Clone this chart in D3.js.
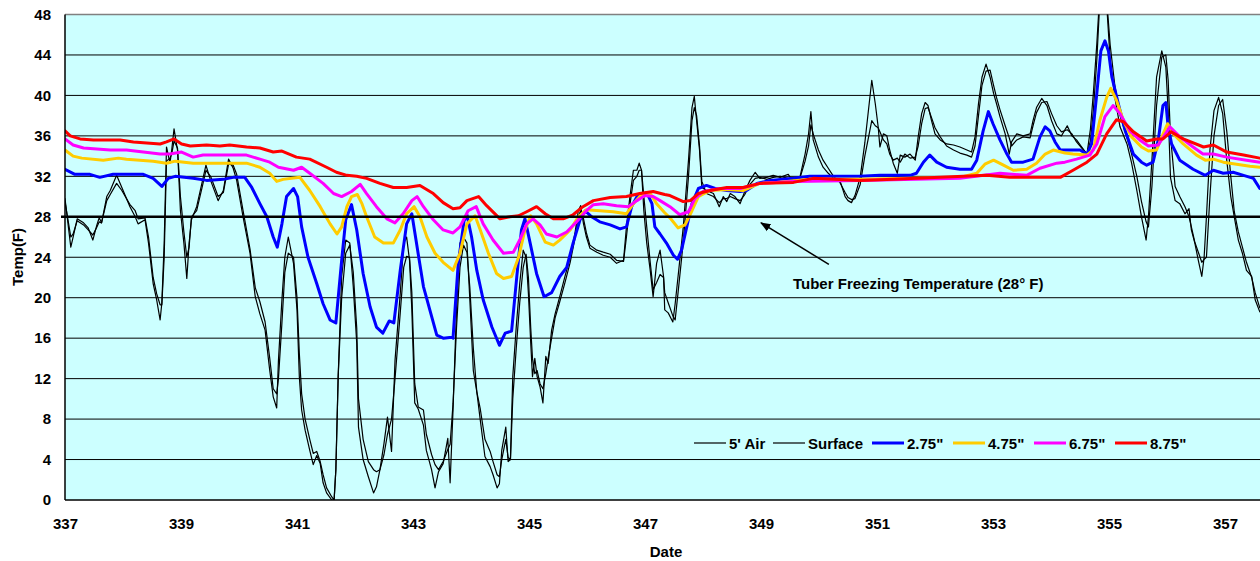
<!DOCTYPE html>
<html><head><meta charset="utf-8">
<script src="https://cdn.jsdelivr.net/npm/d3@7"></script>
<style>
body{margin:0;background:#fff;}
text{font-family:"Liberation Sans",Arial,sans-serif;font-weight:bold;fill:#000;}
</style>
</head><body>
<svg id="chart" width="1260" height="561"></svg>
<script>
// ---------------- data (day of year, temperature °F) ----------------
const xTicks = [337,339,341,343,345,347,349,351,353,355,357];
const yTicks = [0,4,8,12,16,20,24,28,32,36,40,44,48];
const freezeTemp = 28;
const seriesNames = ["5' Air","Surface","2.75\"","4.75\"","6.75\"","8.75\""];
const seriesColors = ["#000000","#000000","#0000FF","#FFCC00","#FF00FF","#FF0000"];

const air5 = [[337.00,29.8],[337.10,25.0],[337.14,26.0],[337.21,27.8],[337.32,27.4],[337.40,26.9],[337.48,25.7],[337.55,27.2],[337.59,27.9],[337.63,27.4],[337.72,30.0],[337.78,30.6],[337.89,32.1],[337.98,30.9],[338.12,29.0],[338.21,28.0],[338.26,27.3],[338.38,27.7],[338.44,25.4],[338.52,21.4],[338.58,19.8],[338.64,17.8],[338.67,19.5],[338.71,25.4],[338.75,34.9],[338.81,33.3],[338.84,34.6],[338.88,36.7],[338.94,34.6],[338.99,28.6],[339.05,25.4],[339.10,21.9],[339.14,25.4],[339.18,27.7],[339.27,29.0],[339.36,31.3],[339.43,33.1],[339.51,31.6],[339.64,29.6],[339.73,30.6],[339.82,33.7],[339.90,32.8],[339.96,31.6],[340.07,28.0],[340.19,24.4],[340.28,20.1],[340.36,18.4],[340.45,16.8],[340.53,12.8],[340.59,10.2],[340.65,9.1],[340.68,13.8],[340.74,19.8],[340.79,24.0],[340.85,26.0],[340.94,23.4],[341.00,18.8],[341.04,12.2],[341.08,8.9],[341.14,6.9],[341.22,4.9],[341.28,3.5],[341.34,4.4],[341.40,3.6],[341.45,1.7],[341.51,0.7],[341.60,0],[341.64,0],[341.67,3.0],[341.71,12.2],[341.77,22.1],[341.84,25.7],[341.91,25.4],[341.97,21.1],[342.03,15.5],[342.06,7.2],[342.14,4.0],[342.23,2.3],[342.32,0.7],[342.37,1.3],[342.43,3.0],[342.50,5.6],[342.56,8.2],[342.63,4.8],[342.69,13.8],[342.78,20.4],[342.84,25.4],[342.89,26.0],[342.94,23.7],[342.98,18.8],[343.03,9.6],[343.09,9.0],[343.18,7.4],[343.23,4.9],[343.32,3.0],[343.38,1.2],[343.44,2.8],[343.52,3.6],[343.60,6.1],[343.64,1.7],[343.69,8.9],[343.75,18.8],[343.81,25.4],[343.87,26.0],[343.93,25.4],[343.98,19.8],[344.04,12.8],[344.10,10.7],[344.16,7.9],[344.24,4.3],[344.33,3.3],[344.38,2.5],[344.45,1.2],[344.49,1.6],[344.53,4.9],[344.60,7.2],[344.64,3.8],[344.68,4.0],[344.72,12.2],[344.78,17.1],[344.84,21.4],[344.90,24.7],[344.95,24.0],[344.99,20.4],[345.03,15.5],[345.06,12.2],[345.10,14.0],[345.14,12.2],[345.19,11.2],[345.24,9.6],[345.29,14.2],[345.33,13.5],[345.39,16.8],[345.45,18.4],[345.53,20.1],[345.62,22.1],[345.71,24.0],[345.79,26.3],[345.85,28.6],[345.89,29.1],[345.94,27.3],[345.99,26.0],[346.05,24.9],[346.17,24.5],[346.28,24.2],[346.40,24.0],[346.51,23.4],[346.63,23.7],[346.68,27.0],[346.74,30.0],[346.80,32.6],[346.86,32.6],[346.90,33.3],[346.94,32.6],[346.98,28.6],[347.03,25.4],[347.09,22.7],[347.14,20.1],[347.20,23.4],[347.26,24.7],[347.32,22.1],[347.34,18.8],[347.40,18.5],[347.48,17.6],[347.52,19.4],[347.57,22.1],[347.66,27.0],[347.75,33.6],[347.81,38.8],[347.85,39.9],[347.89,37.5],[347.94,34.6],[347.98,30.9],[348.06,30.6],[348.18,30.3],[348.28,29.0],[348.35,30.0],[348.41,29.5],[348.47,30.3],[348.55,30.0],[348.64,29.3],[348.72,30.5],[348.81,31.6],[348.90,32.4],[348.98,31.8],[349.10,31.9],[349.21,32.1],[349.33,31.9],[349.47,32.2],[349.56,31.4],[349.67,31.9],[349.76,34.2],[349.82,36.2],[349.86,38.4],[349.90,35.6],[349.99,33.9],[350.07,32.9],[350.16,32.3],[350.25,31.8],[350.36,31.6],[350.45,30.0],[350.50,29.6],[350.56,29.4],[350.62,30.1],[350.71,31.9],[350.79,35.3],[350.91,41.5],[350.97,39.2],[351.02,36.9],[351.05,34.9],[351.11,36.2],[351.17,36.0],[351.22,34.6],[351.28,33.3],[351.35,32.3],[351.40,34.1],[351.48,33.9],[351.57,34.2],[351.66,33.6],[351.71,35.9],[351.77,38.2],[351.83,39.3],[351.88,39.0],[351.94,37.5],[352.00,36.2],[352.09,35.6],[352.20,35.2],[352.32,35.1],[352.43,34.9],[352.55,34.6],[352.63,34.4],[352.69,35.9],[352.75,39.2],[352.81,41.8],[352.88,43.1],[352.95,41.8],[353.01,40.2],[353.06,39.2],[353.12,37.9],[353.21,36.2],[353.28,34.2],[353.32,35.4],[353.41,36.2],[353.52,36.0],[353.64,36.2],[353.69,37.5],[353.75,38.8],[353.84,39.7],[353.93,39.0],[354.01,37.5],[354.10,36.2],[354.18,36.0],[354.28,37.0],[354.36,36.0],[354.44,35.6],[354.53,34.9],[354.62,34.2],[354.68,36.7],[354.73,40.2],[354.79,45.1],[354.83,49.0],[354.90,50.5],[354.96,49.0],[355.02,43.5],[355.10,39.8],[355.19,36.9],[355.31,35.2],[355.39,33.3],[355.48,30.6],[355.56,28.0],[355.64,25.7],[355.68,28.0],[355.74,33.6],[355.82,41.8],[355.91,44.4],[355.98,42.8],[356.02,38.5],[356.06,31.9],[356.14,29.6],[356.22,29.3],[356.31,28.3],[356.38,28.8],[356.42,26.7],[356.48,25.4],[356.54,23.7],[356.60,22.1],[356.64,24.0],[356.68,28.0],[356.74,34.6],[356.81,38.5],[356.89,39.8],[356.96,38.2],[357.03,33.6],[357.10,30.0],[357.16,28.0],[357.23,25.7],[357.30,24.4],[357.37,22.7],[357.46,22.1],[357.52,19.8],[357.60,18.6]];

const surface = [[337.00,29.5],[337.10,26.0],[337.14,26.3],[337.21,27.6],[337.32,27.2],[337.40,26.7],[337.48,26.2],[337.55,27.0],[337.59,27.5],[337.63,27.4],[337.72,29.6],[337.78,30.2],[337.89,31.3],[337.98,30.6],[338.12,29.2],[338.21,28.6],[338.26,27.8],[338.38,27.9],[338.44,26.0],[338.52,22.0],[338.58,20.4],[338.64,19.3],[338.67,19.3],[338.71,24.0],[338.75,33.5],[338.81,33.8],[338.84,34.2],[338.88,35.5],[338.94,34.8],[338.99,30.0],[339.05,26.5],[339.10,24.0],[339.14,25.0],[339.18,28.0],[339.27,28.6],[339.36,30.8],[339.43,32.6],[339.51,32.0],[339.64,30.0],[339.73,30.4],[339.82,33.2],[339.90,33.1],[339.96,32.2],[340.07,28.6],[340.19,24.8],[340.28,21.0],[340.36,19.6],[340.45,17.6],[340.53,14.0],[340.59,11.0],[340.65,10.5],[340.68,12.0],[340.74,17.5],[340.79,22.5],[340.85,24.4],[340.94,24.0],[341.00,20.0],[341.04,14.5],[341.08,10.5],[341.14,8.0],[341.22,6.0],[341.28,4.6],[341.34,4.8],[341.40,3.8],[341.45,2.5],[341.51,1.2],[341.60,0.3],[341.64,0],[341.67,3.0],[341.71,12.2],[341.77,20.0],[341.84,24.4],[341.91,25.2],[341.97,22.5],[342.03,17.0],[342.06,10.0],[342.14,6.0],[342.23,3.8],[342.32,3.0],[342.37,2.8],[342.43,3.0],[342.50,4.5],[342.56,6.5],[342.63,8.0],[342.69,12.0],[342.78,18.5],[342.84,23.0],[342.89,24.1],[342.94,24.0],[342.98,20.5],[343.03,11.5],[343.09,9.2],[343.18,8.9],[343.23,6.5],[343.32,4.5],[343.38,3.5],[343.44,3.0],[343.52,3.8],[343.60,5.0],[343.64,5.5],[343.69,9.5],[343.75,17.0],[343.81,23.0],[343.87,25.2],[343.93,24.5],[343.98,21.0],[344.04,15.0],[344.10,10.7],[344.16,9.0],[344.24,6.0],[344.33,4.8],[344.38,3.8],[344.45,2.5],[344.49,2.3],[344.53,4.0],[344.60,6.0],[344.64,4.2],[344.68,4.0],[344.72,10.0],[344.78,15.0],[344.84,19.5],[344.90,23.0],[344.95,24.3],[344.99,22.0],[345.03,17.0],[345.06,14.0],[345.10,12.5],[345.14,12.8],[345.19,11.5],[345.24,11.0],[345.29,12.5],[345.33,14.0],[345.39,16.0],[345.45,18.0],[345.53,19.6],[345.62,21.5],[345.71,23.5],[345.79,25.8],[345.85,28.0],[345.89,28.6],[345.94,27.8],[345.99,26.4],[346.05,25.2],[346.17,24.7],[346.28,24.5],[346.40,24.3],[346.51,23.7],[346.63,23.6],[346.68,26.0],[346.74,29.2],[346.80,31.6],[346.86,32.0],[346.90,32.6],[346.94,32.6],[346.98,30.0],[347.03,27.0],[347.09,23.5],[347.14,20.8],[347.20,21.5],[347.26,22.3],[347.32,22.0],[347.34,20.5],[347.40,19.5],[347.48,18.2],[347.52,17.8],[347.57,20.5],[347.66,25.5],[347.75,32.0],[347.81,37.5],[347.85,38.8],[347.89,38.0],[347.94,35.0],[347.98,31.5],[348.06,30.3],[348.18,30.0],[348.28,29.4],[348.35,29.8],[348.41,29.8],[348.47,30.0],[348.55,29.8],[348.64,29.6],[348.72,30.2],[348.81,31.2],[348.90,31.8],[348.98,31.9],[349.10,31.7],[349.21,31.9],[349.33,32.0],[349.47,31.8],[349.56,31.6],[349.67,31.8],[349.76,33.5],[349.82,35.0],[349.86,37.1],[349.90,36.2],[349.99,34.6],[350.07,33.6],[350.16,32.8],[350.25,32.0],[350.36,31.4],[350.45,30.4],[350.50,29.9],[350.56,29.7],[350.62,29.8],[350.71,31.2],[350.79,34.0],[350.91,37.5],[350.97,37.0],[351.02,36.8],[351.05,36.4],[351.11,35.6],[351.17,35.2],[351.22,34.2],[351.28,33.6],[351.35,33.8],[351.40,33.4],[351.48,34.2],[351.57,33.8],[351.66,33.9],[351.71,35.0],[351.77,37.2],[351.83,38.7],[351.88,38.8],[351.94,37.8],[352.00,36.8],[352.09,35.9],[352.20,35.0],[352.32,34.6],[352.43,34.3],[352.55,34.1],[352.63,33.9],[352.69,35.0],[352.75,38.0],[352.81,41.0],[352.88,42.4],[352.95,42.5],[353.01,41.0],[353.06,39.8],[353.12,38.6],[353.21,37.0],[353.28,35.8],[353.32,35.0],[353.41,35.6],[353.52,35.9],[353.64,35.8],[353.69,37.0],[353.75,38.3],[353.84,39.3],[353.93,39.4],[354.01,38.2],[354.10,37.0],[354.18,36.4],[354.28,36.6],[354.36,36.2],[354.44,35.4],[354.53,34.8],[354.62,34.2],[354.68,35.5],[354.73,38.5],[354.79,43.5],[354.83,48.0],[354.90,50.0],[354.96,49.5],[355.02,45.0],[355.10,41.0],[355.19,38.0],[355.31,35.8],[355.39,34.2],[355.48,32.0],[355.56,29.5],[355.64,27.5],[355.68,27.0],[355.74,31.0],[355.82,39.0],[355.91,43.8],[355.98,44.0],[356.02,41.5],[356.06,36.0],[356.14,31.0],[356.22,30.0],[356.31,29.0],[356.38,28.0],[356.42,27.0],[356.48,25.5],[356.54,24.5],[356.60,23.5],[356.64,23.8],[356.68,24.0],[356.74,30.0],[356.81,36.0],[356.89,39.0],[356.96,39.6],[357.03,36.5],[357.10,32.0],[357.16,28.5],[357.23,26.5],[357.30,25.0],[357.37,23.5],[357.46,22.0],[357.52,20.5],[357.60,19.0]];

const depth275 = [[337.00,32.7],[337.17,32.2],[337.43,32.2],[337.60,31.9],[337.83,32.2],[338.35,32.2],[338.52,31.8],[338.67,31.0],[338.78,31.8],[338.90,32.0],[339.21,31.8],[339.44,31.6],[339.73,31.7],[339.90,31.9],[340.10,31.9],[340.22,30.9],[340.36,29.3],[340.48,28.0],[340.59,26.0],[340.66,25.0],[340.74,27.3],[340.82,30.0],[340.94,30.8],[341.01,30.0],[341.08,27.0],[341.19,24.0],[341.34,21.4],[341.45,19.4],[341.57,17.8],[341.67,17.5],[341.77,23.7],[341.84,27.7],[341.94,29.2],[342.03,26.7],[342.14,22.4],[342.26,19.1],[342.37,17.1],[342.48,16.5],[342.59,17.7],[342.67,17.5],[342.78,22.7],[342.89,27.3],[342.98,28.3],[343.06,25.4],[343.18,21.1],[343.29,18.8],[343.41,16.3],[343.52,16.0],[343.67,16.1],[343.69,16.0],[343.78,23.4],[343.88,27.6],[343.93,28.2],[344.01,26.0],[344.10,22.7],[344.21,19.8],[344.36,17.1],[344.49,15.3],[344.59,16.5],[344.70,16.7],[344.79,22.1],[344.87,26.7],[344.93,27.8],[345.02,25.4],[345.13,22.4],[345.26,20.1],[345.39,20.5],[345.53,22.1],[345.65,23.0],[345.76,25.4],[345.88,27.7],[345.97,28.6],[346.08,28.0],[346.22,27.5],[346.40,27.2],[346.57,26.8],[346.68,27.0],[346.77,29.0],[346.86,30.0],[347.03,30.4],[347.12,29.3],[347.17,27.0],[347.26,26.3],[347.37,25.4],[347.49,24.2],[347.56,23.8],[347.63,24.7],[347.72,27.0],[347.81,29.3],[347.92,30.8],[348.06,31.1],[348.21,30.8],[348.41,30.6],[348.64,30.5],[348.75,30.6],[348.93,31.3],[349.16,31.6],[349.56,31.8],[349.84,32.0],[350.71,32.0],[351.05,32.1],[351.57,32.1],[351.68,32.3],[351.80,33.4],[351.91,34.1],[352.03,33.4],[352.20,32.9],[352.43,32.7],[352.63,32.7],[352.72,33.6],[352.83,36.5],[352.92,38.4],[353.00,37.2],[353.12,35.6],[353.24,34.2],[353.32,33.4],[353.52,33.4],[353.69,33.7],[353.81,35.9],[353.90,36.9],[353.98,36.5],[354.07,35.4],[354.16,34.6],[354.27,34.6],[354.50,34.6],[354.62,34.2],[354.70,35.2],[354.79,40.2],[354.86,44.4],[354.93,45.4],[354.99,44.4],[355.05,41.8],[355.16,39.2],[355.28,36.5],[355.42,34.2],[355.56,33.4],[355.65,33.1],[355.76,33.4],[355.85,35.6],[355.93,39.0],[355.98,39.3],[356.02,36.9],[356.08,35.2],[356.22,33.6],[356.45,32.7],[356.66,32.1],[356.80,32.6],[356.97,32.3],[357.14,32.4],[357.32,32.1],[357.49,31.8],[357.60,30.8]];

const depth475 = [[337.00,34.6],[337.14,34.0],[337.29,33.8],[337.66,33.6],[337.92,33.8],[338.06,33.7],[338.52,33.5],[338.75,33.3],[338.90,33.5],[339.21,33.3],[339.50,33.3],[340.13,33.3],[340.36,32.9],[340.53,32.3],[340.65,31.5],[340.76,31.7],[341.05,31.9],[341.22,30.6],[341.40,29.0],[341.57,27.3],[341.69,26.3],[341.77,27.0],[341.86,29.0],[341.94,30.0],[342.04,30.2],[342.12,29.3],[342.20,28.0],[342.34,26.0],[342.49,25.4],[342.66,25.4],[342.78,26.7],[342.89,28.3],[343.02,29.0],[343.12,28.0],[343.24,26.0],[343.38,24.4],[343.52,23.5],[343.69,22.7],[343.81,24.4],[343.93,27.3],[344.07,28.1],[344.16,26.7],[344.30,24.4],[344.44,22.4],[344.56,21.9],[344.70,22.1],[344.82,24.0],[344.93,26.7],[345.03,28.1],[345.13,27.3],[345.28,25.5],[345.42,25.2],[345.53,25.7],[345.71,26.7],[345.85,28.0],[345.99,28.7],[346.22,28.6],[346.45,28.5],[346.68,28.3],[346.80,29.3],[346.91,30.0],[347.09,30.3],[347.20,29.3],[347.34,28.4],[347.43,27.9],[347.57,26.9],[347.69,27.2],[347.81,28.6],[347.92,30.0],[348.12,30.6],[348.41,30.7],[348.69,30.6],[348.98,31.3],[349.27,31.4],[349.84,31.7],[350.71,31.7],[352.43,31.9],[352.72,32.3],[352.86,33.2],[353.01,33.6],[353.18,33.1],[353.35,32.6],[353.58,32.7],[353.75,33.3],[353.90,34.2],[354.04,34.6],[354.24,34.3],[354.38,34.2],[354.62,34.1],[354.73,34.6],[354.84,37.5],[354.96,39.8],[355.03,40.7],[355.13,39.5],[355.25,37.5],[355.39,35.9],[355.56,34.9],[355.68,34.5],[355.82,34.6],[355.91,35.9],[356.01,37.2],[356.11,36.2],[356.28,35.2],[356.51,34.1],[356.66,33.6],[356.80,33.7],[356.97,33.4],[357.20,33.2],[357.43,33.0],[357.60,32.9]];

const depth675 = [[337.00,35.7],[337.14,35.1],[337.32,34.8],[337.78,34.6],[338.06,34.6],[338.35,34.4],[338.64,34.2],[338.81,34.2],[339.01,34.4],[339.21,33.9],[339.38,34.1],[340.13,34.1],[340.36,33.7],[340.53,33.4],[340.68,32.9],[340.94,32.6],[341.08,32.9],[341.22,32.3],[341.45,31.3],[341.63,30.3],[341.77,30.0],[341.94,30.5],[342.09,31.2],[342.20,30.3],[342.37,29.0],[342.55,27.8],[342.69,27.4],[342.83,28.3],[342.98,29.6],[343.07,30.0],[343.18,29.0],[343.35,27.7],[343.52,26.7],[343.69,26.4],[343.81,27.0],[343.95,28.6],[344.09,29.0],[344.21,27.3],[344.38,25.7],[344.56,24.4],[344.73,24.5],[344.84,25.7],[344.96,27.3],[345.07,27.8],[345.19,27.2],[345.30,26.3],[345.48,26.0],[345.65,26.5],[345.82,27.5],[345.99,28.6],[346.11,29.2],[346.28,29.3],[346.51,29.1],[346.71,29.0],[346.86,29.6],[347.00,30.1],[347.14,30.0],[347.26,29.6],[347.43,29.0],[347.60,28.2],[347.75,28.5],[347.86,29.8],[348.00,30.5],[348.29,30.8],[348.64,30.8],[348.98,31.3],[349.56,31.5],[350.71,31.6],[352.43,31.8],[353.12,32.3],[353.58,32.1],[353.81,32.8],[354.10,33.3],[354.24,33.4],[354.44,33.7],[354.67,34.1],[354.79,35.2],[354.93,37.9],[355.07,39.0],[355.19,38.2],[355.36,36.5],[355.53,35.6],[355.68,35.0],[355.85,35.1],[356.05,36.9],[356.22,35.9],[356.45,34.9],[356.62,34.2],[356.80,34.2],[357.03,33.9],[357.37,33.6],[357.60,33.4]];

const depth875 = [[337.00,36.5],[337.09,36.0],[337.26,35.7],[337.49,35.6],[337.95,35.6],[338.18,35.4],[338.41,35.3],[338.64,35.2],[338.75,35.4],[338.88,35.7],[339.01,35.2],[339.16,35.0],[339.44,35.1],[339.67,35.0],[339.84,35.1],[340.13,34.9],[340.36,34.8],[340.59,34.4],[340.74,34.5],[340.99,33.9],[341.22,33.7],[341.51,32.9],[341.68,32.4],[341.86,32.1],[342.03,32.0],[342.20,31.8],[342.43,31.3],[342.66,30.9],[342.89,30.9],[343.12,31.1],[343.35,30.3],[343.52,29.4],[343.69,28.8],[343.81,28.9],[343.93,29.6],[344.13,30.0],[344.27,29.1],[344.50,27.8],[344.67,28.0],[344.82,28.1],[344.96,28.5],[345.13,29.0],[345.28,28.3],[345.42,27.8],[345.59,27.8],[345.76,28.2],[345.93,29.0],[346.11,29.6],[346.40,29.9],[346.68,30.0],[346.91,30.3],[347.14,30.5],[347.34,30.2],[347.43,30.1],[347.66,29.5],[347.78,29.6],[347.92,30.3],[348.12,30.6],[348.41,30.9],[348.69,30.9],[348.98,31.3],[349.56,31.4],[349.90,31.8],[350.71,31.6],[351.28,31.7],[352.89,32.1],[353.29,31.9],[353.92,31.9],[354.16,31.9],[354.38,32.6],[354.62,33.4],[354.79,34.2],[354.96,36.2],[355.13,37.6],[355.25,37.4],[355.42,36.4],[355.65,35.5],[355.82,35.7],[355.93,35.7],[356.07,36.4],[356.28,35.7],[356.63,34.9],[356.80,35.1],[357.03,34.4],[357.32,34.1],[357.60,33.8]];

const seriesData = [air5, surface, depth275, depth475, depth675, depth875];

// ---------------- layout ----------------
const svg = d3.select("#chart");
const plotL = 65, plotR = 1262, plotT = 14.5, plotB = 500;
const x = d3.scaleLinear().domain([337, 357.6]).range([plotL, 1259.8]);
const y = d3.scaleLinear().domain([0, 48]).range([plotB, plotT]);

svg.append("rect").attr("x",0).attr("y",0).attr("width",1260).attr("height",561).attr("fill","#fff");
svg.append("rect").attr("x",plotL).attr("y",plotT).attr("width",plotR-plotL).attr("height",plotB-plotT).attr("fill","#CCFFFF");

// grid lines
svg.append("g").selectAll("line").data(yTicks.filter(t=>t>0 && t<48 && t!==freezeTemp)).join("line")
  .attr("x1",plotL).attr("x2",plotR).attr("y1",d=>y(d)).attr("y2",d=>y(d))
  .attr("stroke","#000").attr("stroke-width",1);
// top border
svg.append("line").attr("x1",plotL).attr("x2",plotR).attr("y1",y(48)).attr("y2",y(48)).attr("stroke","#808080").attr("stroke-width",1.5);

// clip
svg.append("clipPath").attr("id","clip").append("rect")
  .attr("x",plotL).attr("y",plotT).attr("width",plotR-plotL).attr("height",plotB-plotT);

const line = d3.line().x(d=>x(d[0])).y(d=>y(d[1]));
const g = svg.append("g").attr("clip-path","url(#clip)");
seriesData.forEach((data,i)=>{
  g.append("path").datum(data).attr("d",line).attr("fill","none")
    .attr("stroke",seriesColors[i]).attr("stroke-width", i<2 ? 1.2 : 3)
    .attr("stroke-linejoin","round").attr("stroke-linecap","round");
});

// freezing line
svg.append("line").attr("x1",plotL-4).attr("x2",plotR).attr("y1",y(freezeTemp)).attr("y2",y(freezeTemp))
  .attr("stroke","#000").attr("stroke-width",2.6);

// axes lines
svg.append("line").attr("x1",plotL).attr("x2",plotL).attr("y1",plotT).attr("y2",plotB).attr("stroke","#000").attr("stroke-width",1.5);
svg.append("line").attr("x1",plotL).attr("x2",plotR).attr("y1",plotB).attr("y2",plotB).attr("stroke","#000").attr("stroke-width",1.5);

// y axis labels
const yAxis = d3.axisLeft(y).tickValues(yTicks).tickSize(0).tickPadding(14).tickFormat(d3.format("d"));
const ya = svg.append("g").attr("transform",`translate(${plotL},0)`).call(yAxis);
ya.select(".domain").remove();
ya.selectAll("text").style("font-size","15px").style("font-family","'Liberation Sans',Arial,sans-serif").style("font-weight","bold").attr("fill","#000");

// x axis labels
const xAxis = d3.axisBottom(x).tickValues(xTicks).tickSize(0).tickPadding(18).tickFormat(d3.format("d"));
const xa = svg.append("g").attr("transform",`translate(0,${plotB})`).call(xAxis);
xa.select(".domain").remove();
xa.selectAll("text").style("font-size","15px").style("font-family","'Liberation Sans',Arial,sans-serif").style("font-weight","bold").attr("fill","#000");

// axis titles
svg.append("text").attr("x",666).attr("y",557).attr("text-anchor","middle").style("font-size","15px").text("Date");
svg.append("text").attr("transform","translate(23,257) rotate(-90)").attr("text-anchor","middle").style("font-size","15px").text("Temp(F)");

// annotation
svg.append("defs").append("marker").attr("id","arr").attr("viewBox","0 0 10 10").attr("refX",9).attr("refY",5)
  .attr("markerWidth",7).attr("markerHeight",7).attr("orient","auto")
  .append("path").attr("d","M0,1 L10,5 L0,9 Z").attr("fill","#000");
svg.append("line").attr("x1",x(350.17)).attr("y1",y(23.3)).attr("x2",x(349.0)).attr("y2",y(27.4))
  .attr("stroke","#000").attr("stroke-width",1.5).attr("marker-end","url(#arr)");
svg.append("text").attr("x",793).attr("y",288.5).style("font-size","15px").text("Tuber Freezing Temperature (28° F)");

// legend
const legendX = [694, 773, 872, 953, 1034, 1115];
const legendY = 443;
const lg = svg.append("g");
seriesNames.forEach((name,i)=>{
  lg.append("line").attr("x1",legendX[i]).attr("x2",legendX[i]+32).attr("y1",legendY).attr("y2",legendY)
    .attr("stroke",seriesColors[i]).attr("stroke-width", i<2 ? 1.2 : 3);
  lg.append("text").attr("x",legendX[i]+35).attr("y",legendY+5.5).style("font-size","15px").text(name);
});
</script>
</body></html>
